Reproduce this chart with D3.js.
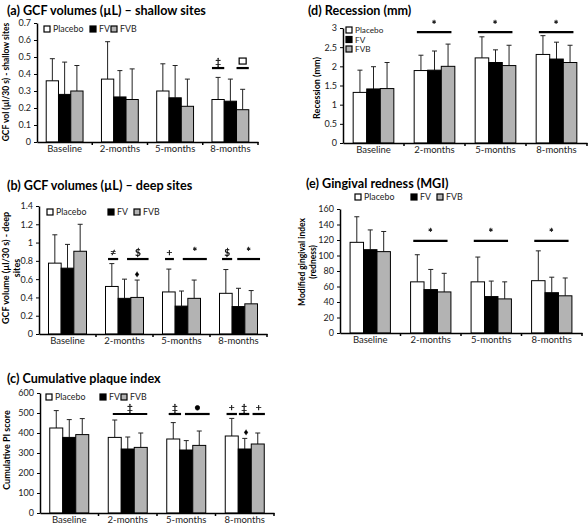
<!DOCTYPE html>
<html><head><meta charset="utf-8">
<script src="https://cdn.jsdelivr.net/npm/d3@7"></script>
<style>body{margin:0;background:#fff}svg{display:block}text{font-family:Lato,"Open Sans",sans-serif;fill:#000}
#ov{position:absolute;left:0;top:0;will-change:transform;pointer-events:none}</style>
</head><body>
<div style="position:relative;width:588px;height:525px">
<svg id="c" width="588" height="525"></svg>
<svg id="ov" width="588" height="525"></svg>
</div>
<script>
const categories = ["Baseline","2-months","5-months","8-months"];
const seriesNames = ["Placebo","FV","FVB"];

// (a) GCF volumes shallow sites
const aPlacebo = [0.36,0.37,0.30,0.25], aPlaceboTop = [0.49,0.59,0.46,0.38];
const aFV      = [0.28,0.265,0.26,0.24], aFVTop   = [0.47,0.42,0.45,0.37];
const aFVB     = [0.30,0.25,0.21,0.19], aFVBTop  = [0.45,0.43,0.37,0.31];
const aTicks = [0,0.1,0.2,0.3,0.4,0.5,0.6,0.7];
const aNotes = [
  {cat:"8-months", from:0, to:1, level:0.435, sym:"‡"},
  {cat:"8-months", from:2, to:3, level:0.435, sym:"□"}];

// (b) GCF volumes deep sites
const bPlacebo = [0.775,0.52,0.46,0.445], bPlaceboTop = [1.085,0.77,0.71,0.705];
const bFV      = [0.72,0.39,0.305,0.30], bFVTop   = [0.98,0.60,0.47,0.50];
const bFVB     = [0.905,0.40,0.39,0.33], bFVBTop  = [1.20,0.59,0.59,0.475];
const bTicks = [0,0.2,0.4,0.6,0.8,1,1.2,1.4];
const bNotes = [
  {cat:"2-months", from:0.2, to:1.0, level:0.82, sym:"≠"},
  {cat:"2-months", from:1.7, to:3.4, level:0.82, sym:"$"},
  {cat:"2-months", at:2.5, level:0.66, sym:"♦"},
  {cat:"5-months", from:0.2, to:0.9, level:0.82, sym:"+"},
  {cat:"5-months", from:1.6, to:3.5, level:0.82, sym:"*"},
  {cat:"8-months", from:0.2, to:1.0, level:0.82, sym:"$"},
  {cat:"8-months", from:1.4, to:3.2, level:0.82, sym:"*"}];

// (c) Cumulative plaque index
const cPlacebo = [425,378,370,385], cPlaceboTop = [512,465,452,473];
const cFV      = [378,320,315,320], cFVTop   = [467,380,362,373];
const cFVB     = [392,328,338,345], cFVBTop  = [472,400,410,400];
const cTicks = [0,100,200,300,400,500,600];
const cNotes = [
  {cat:"2-months", from:0.35, to:3.0, level:495, sym:"‡"},
  {cat:"5-months", from:0.15, to:1.1, level:495, sym:"‡"},
  {cat:"5-months", from:1.4, to:3.3, level:495, sym:"●"},
  {cat:"8-months", from:0.1, to:0.9, level:495, sym:"+"},
  {cat:"8-months", from:1.05, to:1.85, level:495, sym:"‡"},
  {cat:"8-months", from:2.1, to:3.05, level:495, sym:"+"},
  {cat:"8-months", at:1.6, level:405, sym:"♦"}];

// (d) Recession (mm)
const dPlacebo = [1.32,1.89,2.22,2.31], dPlaceboTop = [1.90,2.29,2.77,2.80];
const dFV      = [1.41,1.90,2.10,2.19], dFVTop   = [1.99,2.40,2.43,2.63];
const dFVB     = [1.42,2.00,2.02,2.10], dFVBTop  = [2.10,2.58,2.55,2.55];
const dTicks = [0,0.5,1,1.5,2,2.5,3];
const dNotes = categories.slice(1).map(c => ({cat:c, from:0.2, to:2.75, level:2.89, sym:"*"}));

// (e) Gingival redness (MGI)
const ePlacebo = [117,66,66,67.5], ePlaceboTop = [150,101,98,106];
const eFV      = [107.5,56,47,52], eFVTop   = [133,82,67,72];
const eFVB     = [105,53,44,48],   eFVBTop  = [131,77,66,71];
const eTicks = [0,20,40,60,80,100,120,140,160];
const eNotes = categories.slice(1).map(c => ({cat:c, from:0.2, to:2.75, level:119, sym:"*"}));

const fills = ["#ffffff","#000000","#b3b3b3"];
const svg = d3.select("#c");
const ov = d3.select("#ov");

function panel(cfg){
  const g = svg.append("g");
  const x = d3.scaleBand().domain(categories).range([cfg.x0, cfg.x1]);
  const xs = d3.scaleBand().domain(seriesNames).range([0, x.bandwidth()]).paddingInner(0).paddingOuter(0.75);
  const y = d3.scaleLinear().domain([0, d3.max(cfg.ticks)]).range([cfg.y0, cfg.yTop]);
  const ux = (cat,u) => x(cat) + xs(seriesNames[0]) + u*xs.bandwidth();

  // title
  g.append("text").attr("x", cfg.tx).attr("y", cfg.ty).attr("font-size", 12.6).attr("font-weight", 700).text(cfg.title);

  // bars
  const rows = [];
  categories.forEach((c,i)=>seriesNames.forEach((s,j)=>rows.push({c, s, j, v:cfg.means[j][i], t:cfg.tops[j][i]})));
  g.selectAll(".err").data(rows).join("g").each(function(d){
    const cx = x(d.c) + xs(d.s) + xs.bandwidth()/2;
    const e = d3.select(this);
    e.append("line").attr("x1",cx).attr("x2",cx).attr("y1",y(d.v)).attr("y2",y(d.t)).attr("stroke","#222").attr("stroke-width",1);
    e.append("line").attr("x1",cx-2.5).attr("x2",cx+2.5).attr("y1",y(d.t)).attr("y2",y(d.t)).attr("stroke","#222").attr("stroke-width",1);
  });
  g.selectAll(".bar").data(rows).join("rect")
    .attr("x", d=>x(d.c)+xs(d.s)).attr("width", xs.bandwidth())
    .attr("y", d=>y(d.v)).attr("height", d=>y(0)-y(d.v))
    .attr("fill", d=>fills[d.j]).attr("stroke","#000").attr("stroke-width",1);

  // y axis
  const ya = g.append("g").attr("transform",`translate(${cfg.x0},0)`)
    .call(d3.axisLeft(y).tickValues(cfg.ticks).tickSize(3).tickSizeOuter(0).tickFormat(d=>d3.format("~g")(d)));
  ya.select(".domain").attr("stroke-width",1.5);
  ya.selectAll("text").attr("font-size", 9).attr("font-family","Lato,sans-serif").style("fill","#222");
  // x axis
  const xa = g.append("g").attr("transform",`translate(0,${cfg.y0})`)
    .call(d3.axisBottom(x).tickSize(0).tickPadding(3));
  xa.select(".domain").attr("stroke-width",1.5);
  xa.selectAll("text").attr("font-size", 9.5).attr("font-family","Lato,sans-serif").style("fill","#222");
  g.selectAll(".sep").data(categories).join("line")
    .attr("x1", d=>x(d)+x.bandwidth()).attr("x2", d=>x(d)+x.bandwidth())
    .attr("y1", cfg.y0).attr("y2", cfg.y0+3).attr("stroke","#000").attr("stroke-width",1.5);

  // y label
  const yl = g.append("text").attr("transform",`translate(${cfg.ylx},${cfg.yly}) rotate(-90)`)
    .attr("text-anchor","middle").attr("font-size", cfg.ylSize||8.5).attr("font-weight",700);
  cfg.ylabel.forEach((t,i)=>yl.append("tspan").attr("x",0).attr("dy", i? cfg.ylGap : 0).text(t));

  // legend
  cfg.legend.forEach((p,j)=>{
    g.append("rect").attr("x",p[0]).attr("y",p[1]-6).attr("width",6).attr("height",6)
      .attr("fill",fills[j]).attr("stroke","#000").attr("stroke-width",1.2);
    g.append("text").attr("x",p[0]+9).attr("y",p[1]).attr("font-size",cfg.legSize||8.8).style("fill","#222").text(seriesNames[j]);
  });

  // annotations
  const ng = ov.append("g");
  const symFont = s => (s==="♦"||s==="●"||s==="≠") ? "DejaVu Sans" : "Lato";
  cfg.notes.forEach(n=>{
    if (n.at !== undefined){
      ng.append("text").attr("x",ux(n.cat,n.at)).attr("y",y(n.level)+3).attr("text-anchor","middle")
        .attr("font-family",symFont(n.sym)).style("fill","#000").attr("stroke","#000").attr("stroke-width",0.3)
        .attr("font-size",9).text(n.sym);
      return;
    }
    const yy = y(n.level);
    ng.append("line").attr("x1",ux(n.cat,n.from)).attr("x2",ux(n.cat,n.to)).attr("y1",yy).attr("y2",yy)
      .attr("stroke","#000").attr("stroke-width",2.2);
    const sx = (ux(n.cat,n.from)+ux(n.cat,n.to))/2;
    if (n.sym === "□"){
      ng.append("rect").attr("x",sx-3.5).attr("y",yy-10).attr("width",7).attr("height",6).attr("fill","#fff").attr("stroke","#000").attr("stroke-width",1.2);
    } else {
      ng.append("text").attr("x",sx).attr("y",yy-3.5).attr("text-anchor","middle")
        .attr("font-family",symFont(n.sym)).style("fill","#000").attr("stroke","#000").attr("stroke-width",0.3)
        .attr("font-size", n.sym==="*"?11:10).text(n.sym);
    }
  });
}

panel({title:"(a) GCF volumes (µL) – shallow sites", tx:7, ty:15,
  x0:37, x1:258, y0:142, yTop:23, ticks:aTicks,
  means:[aPlacebo,aFV,aFVB], tops:[aPlaceboTop,aFVTop,aFVBTop],
  ylabel:["GCF vol (µl/30 s) - shallow sites"], ylx:9, yly:82, ylSize:8.5,
  legend:[[44,32],[90,32],[111,32]], notes:aNotes});

panel({title:"(b) GCF volumes (µL) – deep sites", tx:7, ty:190,
  x0:39, x1:267, y0:334, yTop:206, ticks:bTicks,
  means:[bPlacebo,bFV,bFVB], tops:[bPlaceboTop,bFVTop,bFVBTop],
  ylabel:["GCF volume (µl/30 s) - deep","sites"], ylx:9, yly:268, ylGap:11, ylSize:9,
  legend:[[47,215],[108,215],[134,215]], notes:bNotes});

panel({title:"(c) Cumulative plaque index", tx:7, ty:383,
  x0:40, x1:274, y0:513, yTop:393, ticks:cTicks,
  means:[cPlacebo,cFV,cFVB], tops:[cPlaceboTop,cFVTop,cFVBTop],
  ylabel:["Cumulative PI score"], ylx:10, yly:450, ylSize:9,
  legend:[[46,400],[100,400],[121,400]], notes:cNotes});

panel({title:"(d) Recession (mm)", tx:308, ty:15,
  x0:343, x1:587, y0:143, yTop:28, ticks:dTicks,
  means:[dPlacebo,dFV,dFVB], tops:[dPlaceboTop,dFVTop,dFVBTop],
  ylabel:["Recession (mm)"], ylx:320, yly:88, ylSize:9,
  legend:[[346,33],[346,42.5],[346,52]], legSize:8.2, notes:dNotes});

panel({title:"(e) Gingival redness (MGI)", tx:306, ty:188,
  x0:340, x1:582, y0:333, yTop:209, ticks:eTicks,
  means:[ePlacebo,eFV,eFVB], tops:[ePlaceboTop,eFVTop,eFVBTop],
  ylabel:["Modified gingival index","(redness)"], ylx:305, yly:262, ylGap:11, ylSize:8.5,
  legend:[[355,200],[411,200],[437,200]], notes:eNotes});
</script>
</body></html>
